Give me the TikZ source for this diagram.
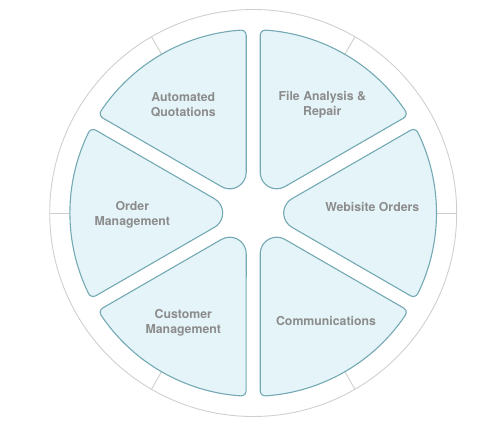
\documentclass[tikz,border=0pt]{standalone}
\usepackage{fontspec}
\setmainfont{TeX Gyre Heros}
\usetikzlibrary{calc}
\definecolor{slicefill}{HTML}{E4F4F9}
\definecolor{slicedraw}{HTML}{74A9B3}
\definecolor{ringgray}{HTML}{CFCFCF}
\definecolor{labelgray}{HTML}{8C8C8C}
\tikzset{
  wedgeslice/.pic={
    \path[fill=slicefill, draw=slicedraw, line width=1.1pt, line join=round]
      (38.750pt,-14.290pt) -- (157.562pt,-82.886pt)
      arc[start angle=240, end angle=333.862, radius=5pt]
      arc[start angle=-26.138, end angle=26.138, radius=183.3pt]
      arc[start angle=26.138, end angle=120, radius=5pt]
      -- (38.750pt,14.290pt)
      arc[start angle=120, end angle=240, radius=16.5pt]
      -- cycle;
  },
  ring/.style={draw=ringgray, line width=0.9pt},
  lbl/.style={text=labelgray, align=center, inner sep=0pt,
    font=\fontsize{12.3}{15}\selectfont\bfseries}
}
\begin{document}
\begin{tikzpicture}[x=1pt,y=1pt]
\useasboundingbox (0,0) rectangle (503,-424);
\coordinate (C) at (253.2,-213);
\draw[ring] (C) circle[radius=203.5pt];
\foreach \a in {0,60,...,300}{
  \draw[ring] ($(C)+(\a:183.3pt)$) -- ($(C)+(\a:203.5pt)$);
}
\foreach \a in {0,60,...,300}{
  \pic[rotate=\a] at (C) {wedgeslice};
}
\node[lbl] (aq) at (183.3,-105.2) {Automated\\Quotations};
\node[lbl] (fa) at (322.3,-105.2) {File Analysis \&\\Repair};
\node[lbl] (om) at (132.3,-214.5) {Order\\Management};
\node[lbl] (wo) at (372.3,-206.7) {Webisite Orders};
\node[lbl] (cm) at (183.3,-322.5) {Customer\\Management};
\node[lbl] (co) at (326,-321) {Communications};
\end{tikzpicture}
\end{document}
